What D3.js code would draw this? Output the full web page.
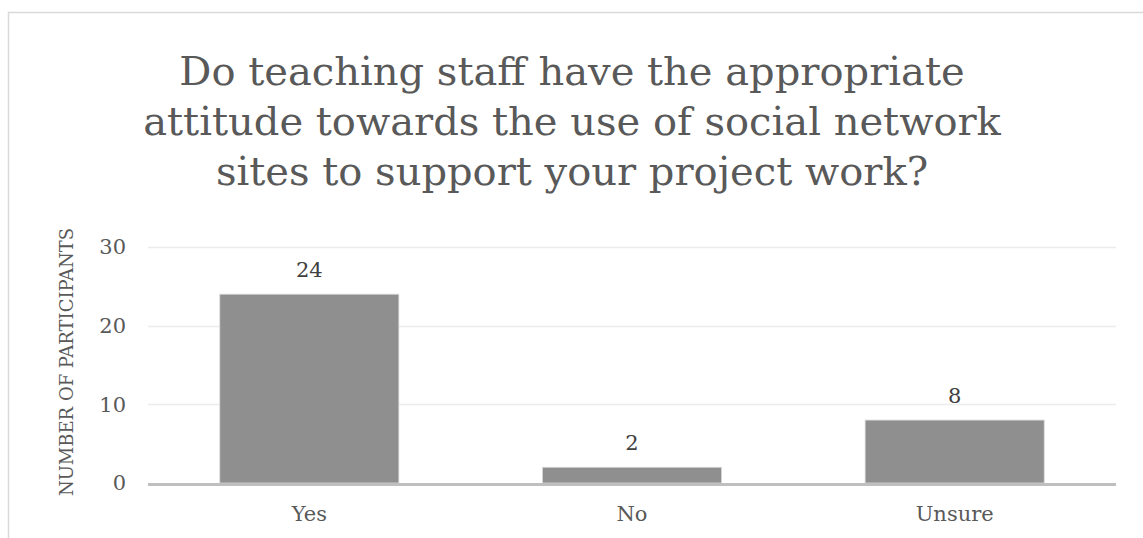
<!DOCTYPE html>
<html>
<head>
<meta charset="utf-8">
<script src="https://cdn.jsdelivr.net/npm/d3@7"></script>
<style>
  html, body { margin: 0; padding: 0; background: #ffffff; }
  svg { display: block; }
  text { font-family: "DejaVu Serif", "Liberation Serif", serif; }
</style>
</head>
<body>
<svg id="chart" width="1143" height="538"></svg>
<script>
// Survey responses
const categories = ["Yes", "No", "Unsure"];
const values = [24, 2, 8];
const yTicks = [0, 10, 20, 30];
const titleLines = [
  "Do teaching staff have the appropriate",
  "attitude towards the use of social network",
  "sites to support your project work?"
];
const yAxisTitle = "NUMBER OF PARTICIPANTS";

const svg = d3.select("#chart");
const W = 1143, H = 538;
const margin = { left: 148, right: 27, top: 247, bottom: 55 };

// Chart-area frame
svg.append("rect")
  .attr("x", 8.5).attr("y", 12.5)
  .attr("width", 1300).attr("height", 700)
  .attr("fill", "#ffffff")
  .attr("stroke", "#d9d9d9").attr("stroke-width", 1.5);

const x = d3.scaleBand()
  .domain(categories)
  .range([margin.left, W - margin.right])
  .paddingInner(0.445)
  .paddingOuter(0.2225);

const y = d3.scaleLinear()
  .domain([0, 30])
  .range([H - margin.bottom, margin.top]);

// Gridlines
svg.append("g")
  .selectAll("line")
  .data(yTicks.filter(d => d > 0))
  .join("line")
  .attr("x1", margin.left).attr("x2", W - margin.right)
  .attr("y1", d => Math.round(y(d)) + 0.5).attr("y2", d => Math.round(y(d)) + 0.5)
  .attr("stroke", "#ececec").attr("stroke-width", 1.3);

// Bars
svg.append("g")
  .selectAll("rect")
  .data(values)
  .join("rect")
  .attr("x", (d, i) => x(categories[i]))
  .attr("width", x.bandwidth())
  .attr("y", d => y(d))
  .attr("height", d => y(0) - y(d))
  .attr("fill", "#8f8f8f")
  .attr("stroke", "#d9d9d9").attr("stroke-width", 0.8);

// Category axis line
svg.append("line")
  .attr("x1", margin.left).attr("x2", W - margin.right)
  .attr("y1", y(0) + 1.5).attr("y2", y(0) + 1.5)
  .attr("stroke", "#bfbfbf").attr("stroke-width", 3);

// Y tick labels
const yAxis = d3.axisLeft(y).tickValues(yTicks).tickSize(0).tickPadding(0);
const yg = svg.append("g")
  .attr("transform", `translate(${margin.left - 22},0)`)
  .call(yAxis);
yg.select(".domain").remove();
yg.selectAll("text")
  .attr("font-family", "DejaVu Serif, serif")
  .attr("font-size", 21)
  .attr("fill", "#595959");

// X category labels
const xAxis = d3.axisBottom(x).tickSize(0).tickPadding(0);
const xg = svg.append("g")
  .attr("transform", `translate(0,${y(0) + 38})`)
  .call(xAxis);
xg.select(".domain").remove();
xg.selectAll("text")
  .attr("y", 0).attr("dy", 0)
  .attr("font-family", "DejaVu Serif, serif")
  .attr("font-size", 21)
  .attr("fill", "#595959");

// Value labels
svg.append("g")
  .selectAll("text")
  .data(values)
  .join("text")
  .attr("x", (d, i) => x(categories[i]) + x.bandwidth() / 2)
  .attr("y", d => y(d) - 17)
  .attr("text-anchor", "middle")
  .attr("font-size", 21)
  .attr("fill", "#404040")
  .text(d => d);

// Y axis title
svg.append("text")
  .attr("transform", `translate(73,${(y(0) + y(30)) / 2 - 3}) rotate(-90)`)
  .attr("text-anchor", "middle")
  .attr("font-size", 18)
  .attr("fill", "#595959")
  .text(yAxisTitle);

// Title
svg.append("g")
  .selectAll("text")
  .data(titleLines)
  .join("text")
  .attr("x", 572)
  .attr("y", (d, i) => 85 + i * 50)
  .attr("text-anchor", "middle")
  .attr("font-size", 40)
  .attr("fill", "#595959")
  .text(d => d);
</script>
</body>
</html>
